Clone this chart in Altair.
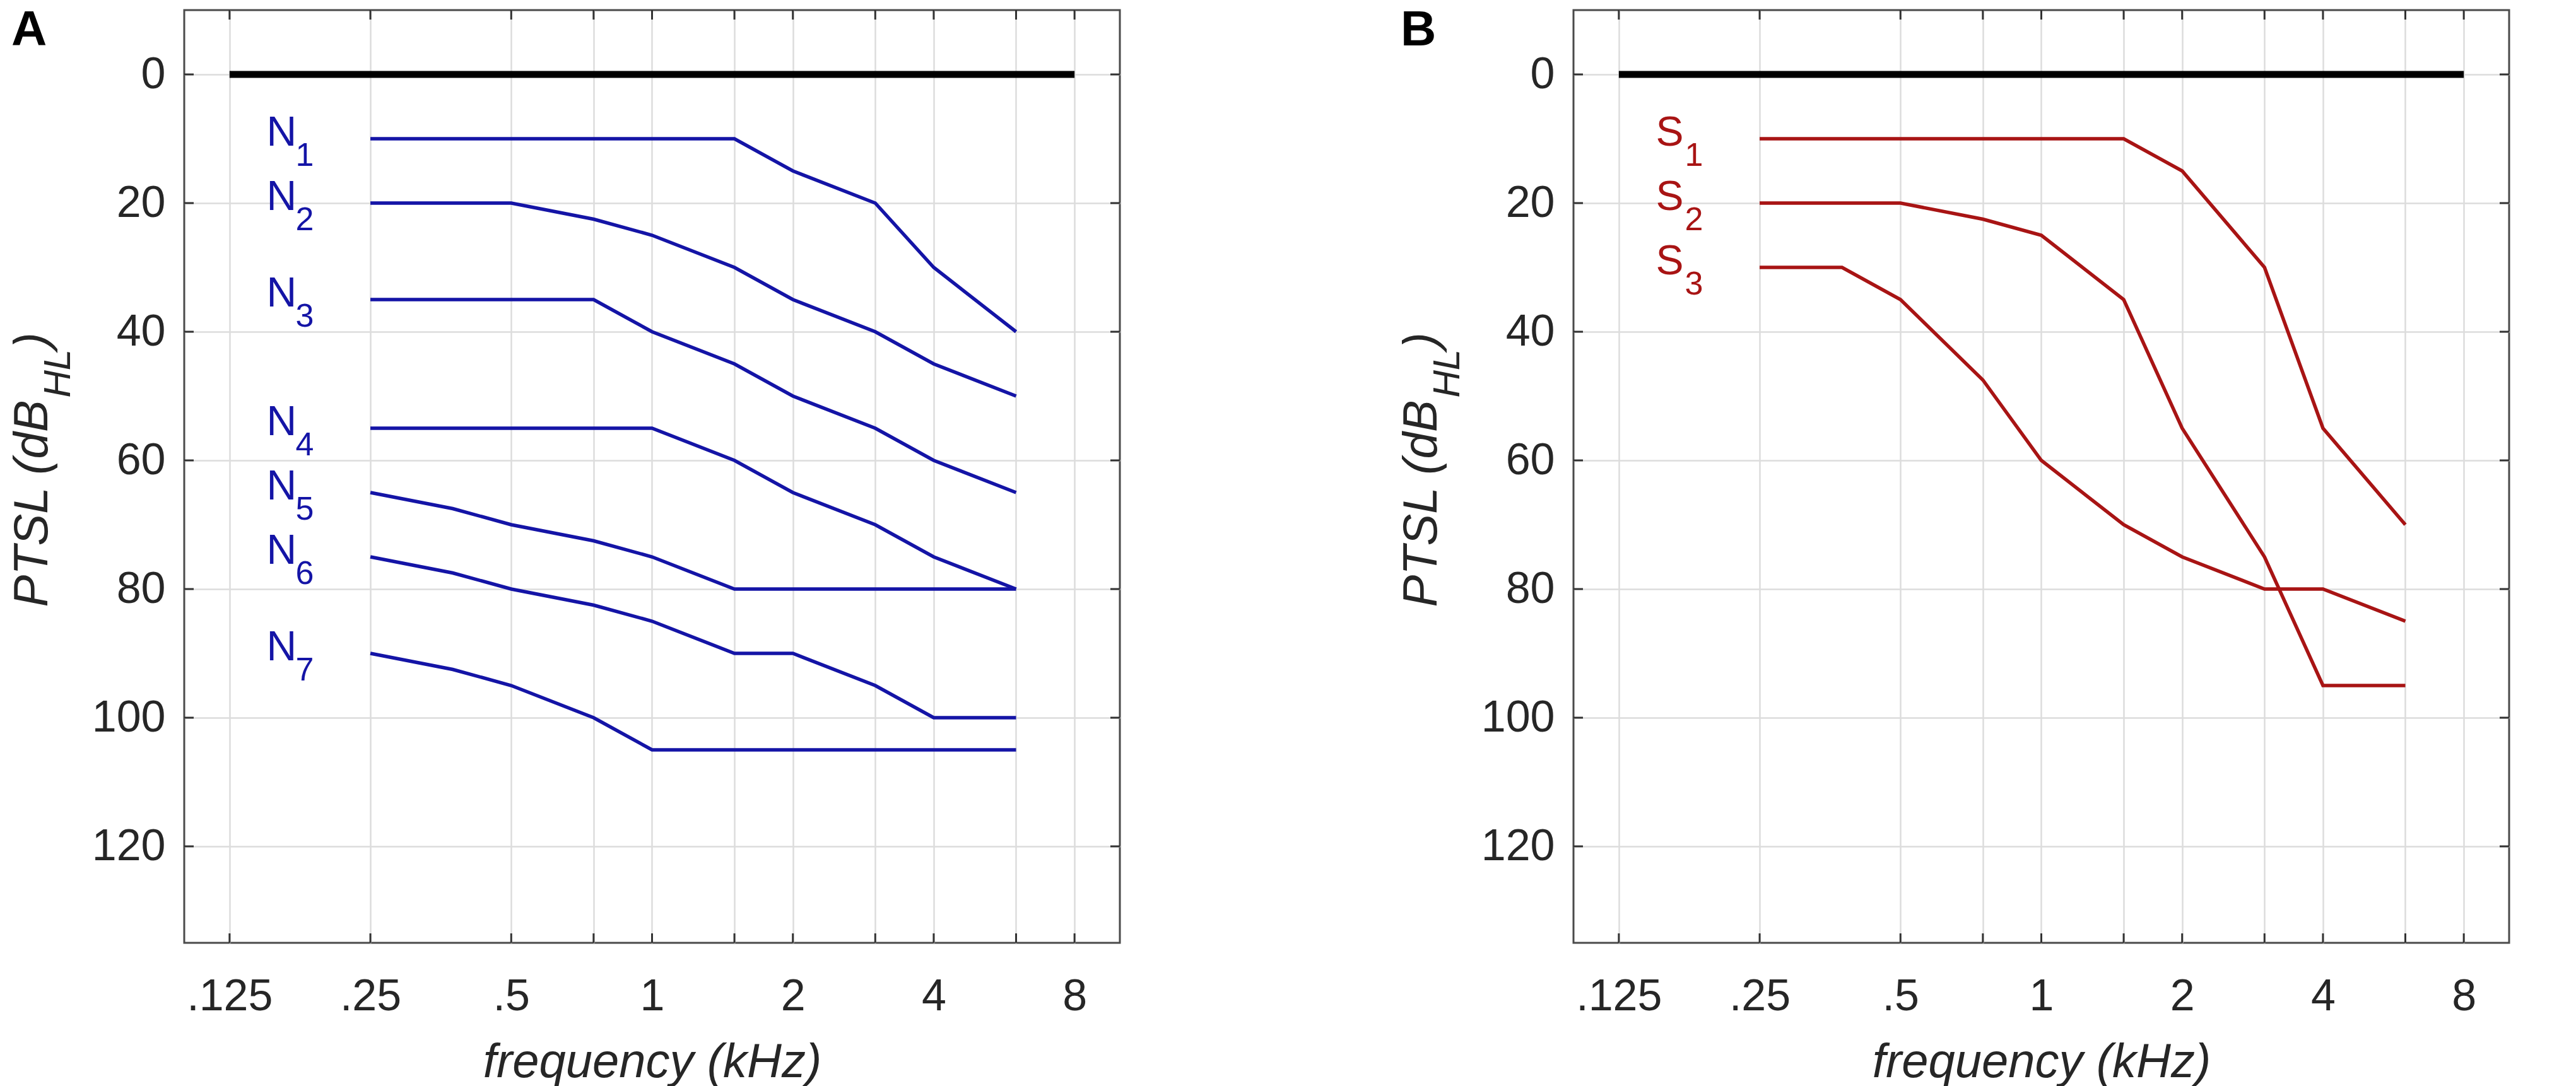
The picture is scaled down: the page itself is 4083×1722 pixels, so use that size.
import altair as alt
import pandas as pd

# ---------------- data ----------------
FREQ_KHZ = [0.25, 0.375, 0.5, 0.75, 1.0, 1.5, 2.0, 3.0, 4.0, 6.0]

N_IDS = ["1", "2", "3", "4", "5", "6", "7"]
N1 = [10, 10, 10, 10, 10, 10, 15, 20, 30, 40]
N2 = [20, 20, 20, 22.5, 25, 30, 35, 40, 45, 50]
N3 = [35, 35, 35, 35, 40, 45, 50, 55, 60, 65]
N4 = [55, 55, 55, 55, 55, 60, 65, 70, 75, 80]
N5 = [65, 67.5, 70, 72.5, 75, 80, 80, 80, 80, 80]
N6 = [75, 77.5, 80, 82.5, 85, 90, 90, 95, 100, 100]
N7 = [90, 92.5, 95, 100, 105, 105, 105, 105, 105, 105]
N_LEVELS = [N1, N2, N3, N4, N5, N6, N7]

S_IDS = ["1", "2", "3"]
S1 = [10, 10, 10, 10, 10, 10, 15, 30, 55, 70]
S2 = [20, 20, 20, 22.5, 25, 35, 55, 75, 95, 95]
S3 = [30, 30, 35, 47.5, 60, 70, 75, 80, 80, 85]
S_LEVELS = [S1, S2, S3]

REF_FREQ = [0.125, 8.0]
REF_LEVEL = [0, 0]

X_GRID = [0.125, 0.25, 0.5, 0.75, 1, 1.5, 2, 3, 4, 6, 8]
X_LABELED = [0.125, 0.25, 0.5, 1, 2, 4, 8]
X_LABELS = [".125", ".25", ".5", "1", "2", "4", "8"]
Y_TICKS = [0, 20, 40, 60, 80, 100, 120]
LABEL_FREQ = 0.15

# ---------------- style ----------------
W, H = 1483, 1479
FONT = "Liberation Sans"
TXT = "#262626"
BLUE = "#1414A6"
RED = "#A81414"
TICK_LEN = 15

label_expr = ""
for v, s in zip(X_LABELED, X_LABELS):
    label_expr += f"datum.value == {v} ? '{s}' : "
label_expr += "''"

x_enc = alt.X(
    "freq:Q",
    scale=alt.Scale(type="log", domain=[0.1, 10], nice=False, zero=False),
    axis=alt.Axis(
        values=X_GRID, labelExpr=label_expr, grid=True, ticks=False, domain=False,
        labelFontSize=70, labelFont=FONT, labelColor=TXT, labelPadding=51,
        labelFlush=False, labelOverlap=False,
        gridColor="#dcdcdc", gridWidth=2.5,
        title="frequency (kHz)", titleFont=FONT, titleFontSize=76,
        titleFontStyle="italic", titleFontWeight="normal", titleColor=TXT,
        titlePadding=32,
    ),
)
y_enc = alt.Y(
    "ptsl:Q",
    scale=alt.Scale(domain=[-10, 135], reverse=True, nice=False, zero=False),
    axis=alt.Axis(
        values=Y_TICKS, grid=True, ticks=False, domain=False,
        labelFontSize=70, labelFont=FONT, labelColor=TXT, labelPadding=30,
        labelFlush=False, labelOverlap=False,
        gridColor="#dcdcdc", gridWidth=2.5, title=None,
    ),
)


def panel(letter, prefix, ids, levels, color):
    rows = []
    for cid, lv in zip(ids, levels):
        for f, v in zip(FREQ_KHZ, lv):
            rows.append({"freq": f, "ptsl": v, "curve": prefix + cid})
    df = pd.DataFrame(rows)
    lab = pd.DataFrame({
        "freq": [LABEL_FREQ] * len(ids),
        "ptsl": [lv[0] for lv in levels],
        "main": [prefix] * len(ids),
        "sub": ids,
    })
    ref = pd.DataFrame({"freq": REF_FREQ, "ptsl": REF_LEVEL})
    xg = pd.DataFrame({"freq": X_GRID})
    yg = pd.DataFrame({"ptsl": Y_TICKS})

    tick_col = "#333333"
    layers = [
        alt.Chart(df).mark_line(color=color, strokeWidth=5.5).encode(
            x=x_enc, y=y_enc, detail="curve:N"),
        alt.Chart(ref).mark_line(color="black", strokeWidth=11).encode(x=x_enc, y=y_enc),
        # inward ticks
        alt.Chart(xg).mark_rule(color=tick_col, strokeWidth=3).encode(
            x=x_enc, y=alt.value(H), y2=alt.value(H - TICK_LEN)),
        alt.Chart(xg).mark_rule(color=tick_col, strokeWidth=3).encode(
            x=x_enc, y=alt.value(0), y2=alt.value(TICK_LEN)),
        alt.Chart(yg).mark_rule(color=tick_col, strokeWidth=3).encode(
            y=y_enc, x=alt.value(0), x2=alt.value(TICK_LEN)),
        alt.Chart(yg).mark_rule(color=tick_col, strokeWidth=3).encode(
            y=y_enc, x=alt.value(W), x2=alt.value(W - TICK_LEN)),
        # curve labels
        alt.Chart(lab).mark_text(
            align="left", baseline="alphabetic", dy=11, font=FONT, fontSize=66,
            color=color).encode(x=x_enc, y=y_enc, text="main:N"),
        alt.Chart(lab).mark_text(
            align="left", baseline="alphabetic", dx=46, dy=43, font=FONT, fontSize=52,
            color=color).encode(x=x_enc, y=y_enc, text="sub:N"),
        # panel letter
        alt.Chart(pd.DataFrame({"t": [letter]})).mark_text(
            align="left", baseline="alphabetic", font=FONT, fontSize=78,
            fontWeight="bold", color="black").encode(
            text="t:N", x=alt.value(-274), y=alt.value(56)),
        # y title pieces (PTSL (dB_HL))
        alt.Chart(pd.DataFrame({"t": ["PTSL (dB"]})).mark_text(
            align="left", baseline="alphabetic", angle=270, font=FONT, fontSize=76,
            fontStyle="italic", color=TXT).encode(
            text="t:N", x=alt.value(-217), y=alt.value(H / 2 + 207)),
        alt.Chart(pd.DataFrame({"t": ["HL"]})).mark_text(
            align="left", baseline="alphabetic", angle=270, font=FONT, fontSize=60,
            fontStyle="italic", color=TXT).encode(
            text="t:N", x=alt.value(-181), y=alt.value(H / 2 - 125)),
        alt.Chart(pd.DataFrame({"t": [")"]})).mark_text(
            align="left", baseline="alphabetic", angle=270, font=FONT, fontSize=76,
            fontStyle="italic", color=TXT).encode(
            text="t:N", x=alt.value(-217), y=alt.value(H / 2 - 203)),
    ]
    return alt.layer(*layers).properties(width=W, height=H)


chartA = panel("A", "N", N_IDS, N_LEVELS, BLUE)
chartB = panel("B", "S", S_IDS, S_LEVELS, RED)

chart = alt.hconcat(chartA, chartB, spacing=719, bounds="flush").properties(
    padding={"left": 4, "top": 0, "right": 0, "bottom": 0},
    background="white",
).configure_view(stroke="#4a4a4a", strokeWidth=3)

chart.save("out.html", embed_options={"renderer": "svg", "actions": False})
